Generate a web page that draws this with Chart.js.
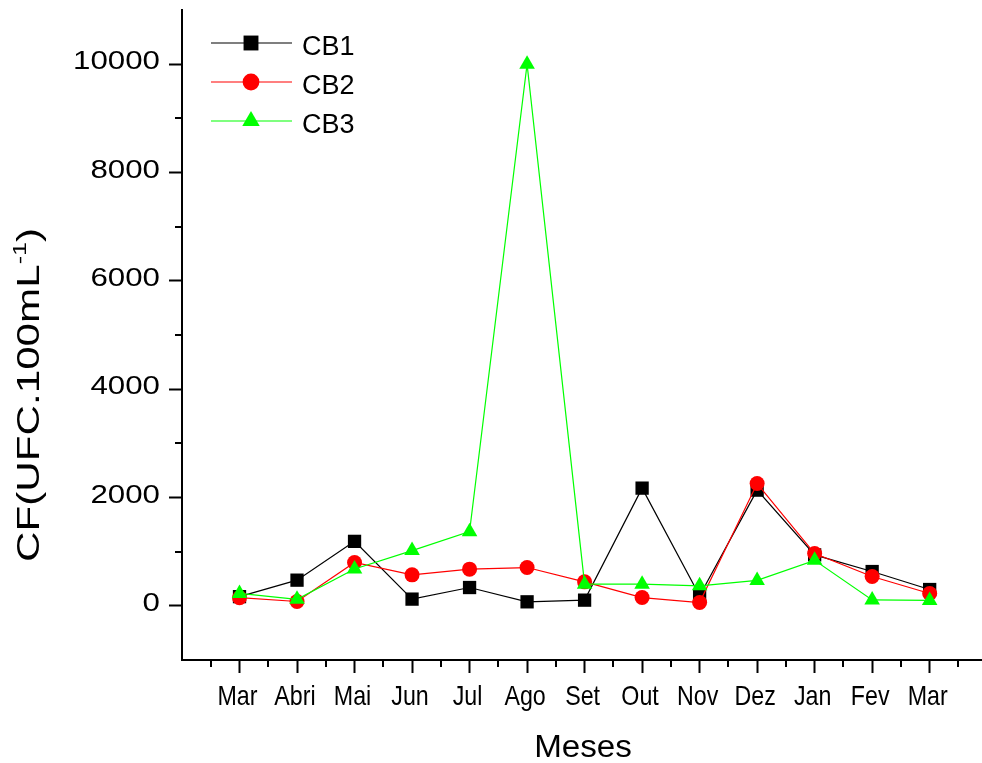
<!DOCTYPE html>
<html>
<head>
<meta charset="utf-8">
<script src="https://cdn.jsdelivr.net/npm/chart.js@4.4.1/dist/chart.umd.min.js"></script>
<style>
  html, body { margin: 0; padding: 0; background: #fff; }
  #wrap { width: 982px; height: 763px; }
</style>
</head>
<body>
<div id="wrap"><canvas id="chart" width="982" height="763"></canvas></div>
<script>
// months along the x axis (one sampling campaign each)
const months = ["Mar", "Abri", "Mai", "Jun", "Jul", "Ago", "Set", "Out", "Nov", "Dez", "Jan", "Fev", "Mar"];

// CF values (UFC.100mL-1)
const cb1 = [170, 474, 1190, 124, 338, 74, 105, 2173, 185, 2136, 941, 633, 301];
const cb2 = [150, 80, 800, 572, 677, 707, 443, 153, 61, 2258, 965, 541, 227];
const cb3 = [230, 120, 680, 1020, 1370, 10000, 400, 400, 370, 470, 840, 110, 100];

const yTicks = [0, 2000, 4000, 6000, 8000, 10000];
const yMinorTicks = [1000, 3000, 5000, 7000, 9000];

const FONT = "'Liberation Sans', Arial, Helvetica, sans-serif";

function toPoints(arr) {
  return arr.map((v, i) => ({ x: i, y: v }));
}

// draws minor ticks, tick labels, axis titles and the legend box
const axisText = {
  id: "axisText",
  afterDraw(chart) {
    const ctx = chart.ctx;
    const xs = chart.scales.x;
    const ys = chart.scales.y;
    ctx.save();

    // minor ticks
    ctx.strokeStyle = "#000";
    ctx.lineWidth = 2;
    ctx.beginPath();
    for (let i = -0.5; i <= 12.5; i += 1) {
      const px = Math.round(xs.getPixelForValue(i));
      ctx.moveTo(px, ys.bottom);
      ctx.lineTo(px, ys.bottom + 7);
    }
    yMinorTicks.forEach(v => {
      const py = Math.round(ys.getPixelForValue(v));
      ctx.moveTo(xs.left, py);
      ctx.lineTo(xs.left - 7, py);
    });
    ctx.stroke();

    ctx.fillStyle = "#000";
    ctx.textBaseline = "alphabetic";

    // x tick labels (narrow looking in the original)
    ctx.font = "28px " + FONT;
    ctx.textAlign = "center";
    months.forEach((m, i) => {
      const px = xs.getPixelForValue(i);
      ctx.save();
      ctx.translate(px - 2, 705);
      ctx.scale(0.83, 1);
      ctx.fillText(m, 0, 0);
      ctx.restore();
    });

    // y tick labels (wide looking in the original)
    ctx.font = "25px " + FONT;
    ctx.textAlign = "right";
    yTicks.forEach(v => {
      const py = ys.getPixelForValue(v);
      ctx.save();
      ctx.translate(160, py + 5);
      ctx.scale(1.25, 1);
      ctx.fillText(String(v), 0, 0);
      ctx.restore();
    });

    // x title
    ctx.font = "31px " + FONT;
    ctx.textAlign = "center";
    ctx.save();
    ctx.translate(583, 757);
    ctx.scale(1.07, 1);
    ctx.fillText("Meses", 0, 0);
    ctx.restore();

    // y title with superscript -1
    const mainFont = "32px " + FONT;
    const supFont = "19px " + FONT;
    ctx.textAlign = "left";
    ctx.font = mainFont;
    const w1 = ctx.measureText("CF(UFC.100mL").width;
    const w3 = ctx.measureText(")").width;
    ctx.font = supFont;
    const w2 = ctx.measureText("-1").width;
    const stretch = 334 / (w1 + w2 + w3);
    ctx.save();
    ctx.translate(39, 562);
    ctx.rotate(-Math.PI / 2);
    ctx.scale(stretch, 1);
    ctx.font = mainFont;
    ctx.fillText("CF(UFC.100mL", 0, 0);
    ctx.font = supFont;
    ctx.fillText("-1", w1, -13);
    ctx.font = mainFont;
    ctx.fillText(")", w1 + w2, 0);
    ctx.restore();

    // legend
    const rows = [43, 82, 121];
    chart.data.datasets.forEach((ds, k) => {
      const yy = rows[k];
      ctx.strokeStyle = ds.borderColor;
      ctx.lineWidth = 1.2;
      ctx.beginPath();
      ctx.moveTo(211, yy);
      ctx.lineTo(292, yy);
      ctx.stroke();
      ctx.fillStyle = ds.backgroundColor;
      Chart.helpers.drawPoint(ctx, {
        pointStyle: ds.pointStyle,
        radius: ds.pointRadius * 1.12,
        borderWidth: 0,
        rotation: 0
      }, 251, yy);
      ctx.fillStyle = "#000";
      ctx.font = "27px " + FONT;
      ctx.textAlign = "left";
      ctx.fillText(ds.label, 302, yy + 12);
    });

    ctx.restore();
  }
};

const gridOpts = {
  drawOnChartArea: false,
  drawTicks: true,
  tickLength: 13,
  tickWidth: 2,
  tickColor: "#000"
};

new Chart(document.getElementById("chart"), {
  type: "line",
  data: {
    datasets: [
      {
        label: "CB1",
        data: toPoints(cb1),
        borderColor: "#000000",
        backgroundColor: "#000000",
        pointStyle: "rect",
        pointRadius: 9.4,
        pointBorderWidth: 0,
        borderWidth: 1.2,
        order: 2
      },
      {
        label: "CB2",
        data: toPoints(cb2),
        borderColor: "#ff0000",
        backgroundColor: "#ff0000",
        pointStyle: "circle",
        pointRadius: 7.5,
        pointBorderWidth: 0,
        borderWidth: 1.2,
        order: 1
      },
      {
        label: "CB3",
        data: toPoints(cb3),
        borderColor: "#00ff00",
        backgroundColor: "#00ff00",
        pointStyle: "triangle",
        pointRadius: 9,
        pointBorderWidth: 0,
        borderWidth: 1.2,
        order: 0
      }
    ]
  },
  options: {
    responsive: false,
    animation: false,
    devicePixelRatio: 1,
    layout: { autoPadding: false, padding: { top: 10, left: 0, right: 0, bottom: 0 } },
    plugins: {
      legend: { display: false },
      tooltip: { enabled: false }
    },
    scales: {
      x: {
        type: "linear",
        min: -1,
        max: 12.91,
        afterBuildTicks: s => { s.ticks = months.map((m, i) => ({ value: i })); },
        afterFit: s => { s.height = 103; },
        ticks: { display: false },
        grid: gridOpts,
        border: { color: "#000", width: 2 }
      },
      y: {
        type: "linear",
        min: -1000,
        max: 11000,
        afterBuildTicks: s => { s.ticks = yTicks.map(v => ({ value: v })); },
        afterFit: s => { s.width = 182; },
        ticks: { display: false },
        grid: gridOpts,
        border: { color: "#000", width: 2 }
      }
    }
  },
  plugins: [axisText]
});
</script>
</body>
</html>
